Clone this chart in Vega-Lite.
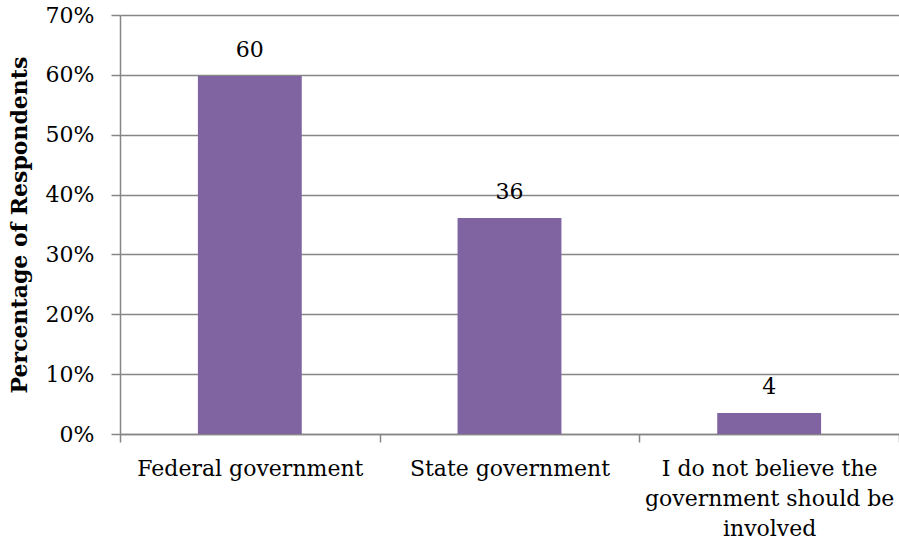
{
  "$schema": "https://vega.github.io/schema/vega-lite/v6.json",
  "width": 779,
  "height": 419,
  "autosize": "none",
  "padding": {"left": 120, "top": 15, "right": 0, "bottom": 112},
  "background": "white",
  "config": {
    "view": {"stroke": null},
    "font": "DejaVu Serif"
  },
  "data": {
    "values": [
      {"category": "Federal government", "value": 0.598, "label": "60"},
      {"category": "State government", "value": 0.361, "label": "36"},
      {"category": "I do not believe the government should be involved", "value": 0.035, "label": "4"}
    ]
  },
  "encoding": {
    "x": {
      "field": "category",
      "type": "nominal",
      "sort": null,
      "scale": {"paddingInner": 0, "paddingOuter": 0},
      "axis": {
        "title": null,
        "labelAngle": 0,
        "tickBand": "extent",
        "domainColor": "#868686",
        "domainWidth": 1.5,
        "tickColor": "#868686",
        "tickWidth": 1.5,
        "tickSize": 8,
        "labelFont": "DejaVu Serif",
        "labelFontSize": 22,
        "labelColor": "#000000",
        "labelPadding": 16,
        "labelLineHeight": 30,
        "labelLimit": 400,
        "labelExpr": "datum.value == 'I do not believe the government should be involved' ? ['I do not believe the', 'government should be', 'involved'] : datum.label"
      }
    },
    "y": {
      "field": "value",
      "type": "quantitative",
      "scale": {"domain": [0, 0.7], "nice": false},
      "axis": {
        "format": ".0%",
        "values": [0, 0.1, 0.2, 0.3, 0.4, 0.5, 0.6, 0.7],
        "title": "Percentage of Respondents",
        "titleFont": "DejaVu Serif",
        "titleFontSize": 22,
        "titleFontWeight": "bold",
        "titleColor": "#000000",
        "titlePadding": 14,
        "grid": true,
        "gridColor": "#868686",
        "gridWidth": 1.5,
        "domainColor": "#868686",
        "domainWidth": 1.5,
        "tickColor": "#868686",
        "tickWidth": 1.5,
        "tickSize": 9,
        "labelFont": "DejaVu Serif",
        "labelFontSize": 22,
        "labelColor": "#000000",
        "labelPadding": 17
      }
    }
  },
  "layer": [
    {
      "mark": {"type": "bar", "color": "#8064A2", "width": {"band": 0.4}}
    },
    {
      "mark": {"type": "text", "font": "DejaVu Serif", "fontSize": 22, "color": "#000000", "baseline": "alphabetic", "dy": -19},
      "encoding": {"text": {"field": "label"}}
    }
  ]
}
